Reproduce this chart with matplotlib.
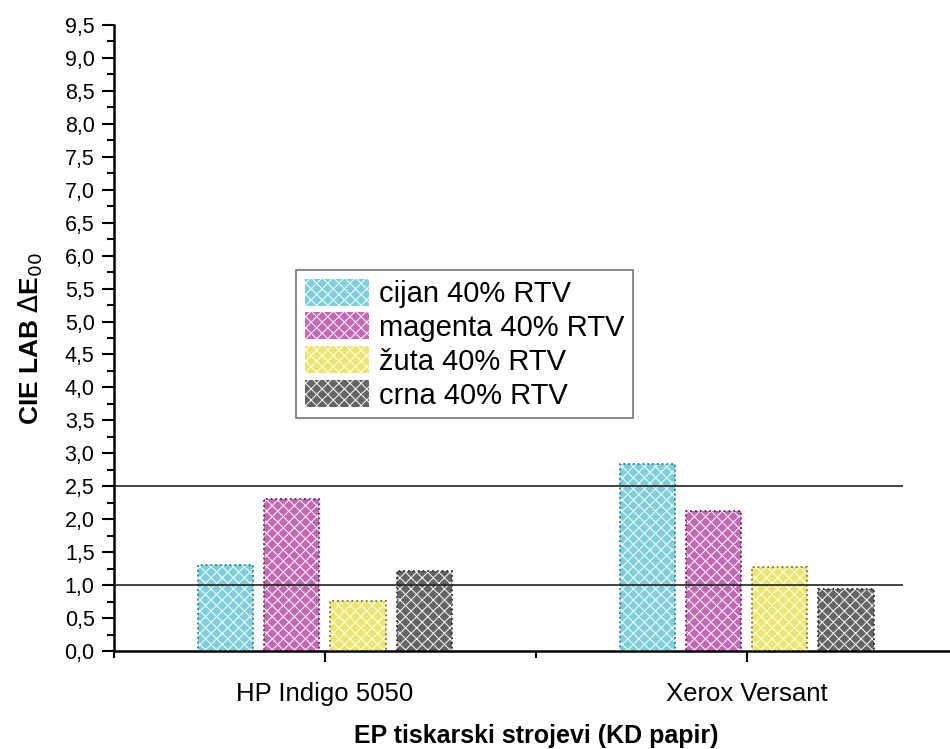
import numpy as np
import matplotlib
matplotlib.use('Agg')
import matplotlib.pyplot as plt
from matplotlib.ticker import MultipleLocator, FuncFormatter, FixedLocator

plt.rcParams['font.family'] = ['Liberation Sans', 'DejaVu Sans']
plt.rcParams['hatch.linewidth'] = 0.7

# data
machines = ['HP Indigo 5050', 'Xerox Versant']
series = ['cijan 40% RTV', 'magenta 40% RTV', 'žuta 40% RTV', 'crna 40% RTV']
cijan = [1.30, 2.84]
magenta = [2.31, 2.12]
zuta = [0.76, 1.27]
crna = [1.21, 0.94]
limits = [1.0, 2.5]

values = [cijan, magenta, zuta, crna]
fills = ['#7ccfdb', '#c468b6', '#ece66c', '#646466']
edges = ['#1f7f86', '#6a1f63', '#7a7630', '#333333']

fig = plt.figure(figsize=(9.5, 7.49), dpi=100)
ax = fig.add_axes([0.12, 0.1308, 0.8879, 0.8358])

x = np.arange(1, len(machines) + 1)
w = 0.131
step = 0.157
offsets = (np.arange(4) - 1.5) * step

handles = []
for i in range(4):
    b = ax.bar(x + offsets[i], values[i], w, color=fills[i], edgecolor='white',
               hatch='xxx', linewidth=0, zorder=2)
    ax.bar(x + offsets[i], values[i], w, fill=False, edgecolor=edges[i],
           linestyle=':', linewidth=1.3, zorder=3)
    handles.append(b)

for lim in limits:
    ax.hlines(lim, 0.5, 2.37, color='#222222', linewidth=1.2, zorder=4)

ax.set_xlim(0.5, 2.5)
ax.set_ylim(0, 9.5)
ax.yaxis.set_major_locator(MultipleLocator(0.5))
ax.yaxis.set_minor_locator(MultipleLocator(0.25))
ax.yaxis.set_major_formatter(FuncFormatter(lambda v, p: ('%.1f' % v).replace('.', ',')))
ax.set_xticks(x)
ax.set_xticklabels(machines, fontsize=18.5)
ax.xaxis.set_minor_locator(FixedLocator([0.5, 1.5, 2.5]))

ax.tick_params(axis='y', which='major', length=9, width=1.5, labelsize=15.5, direction='out', pad=5)
ax.tick_params(axis='y', which='minor', length=5, width=1.5, direction='out')
ax.tick_params(axis='x', which='major', length=8, width=1.5, direction='out', pad=14)
ax.tick_params(axis='x', which='minor', length=5, width=1.5, direction='out')

for s in ['top', 'right']:
    ax.spines[s].set_visible(False)
for s in ['left', 'bottom']:
    ax.spines[s].set_linewidth(1.8)

ax.set_ylabel(r'CIE LAB $\Delta$E$_{00}$', fontsize=19, fontweight='bold', labelpad=14)
ax.set_xlabel('EP tiskarski strojevi (KD papir)', fontsize=18, fontweight='bold', labelpad=13)

leg = ax.legend(handles, series, loc='upper left', bbox_to_anchor=(0.216, 0.609),
                borderaxespad=0, fontsize=21, frameon=True, fancybox=False,
                edgecolor='#555555', handlelength=2.2, handleheight=1.05,
                labelspacing=0.15, handletextpad=0.35, borderpad=0.3)
leg.get_frame().set_linewidth(1.2)

fig.savefig('out.png', dpi=100)
